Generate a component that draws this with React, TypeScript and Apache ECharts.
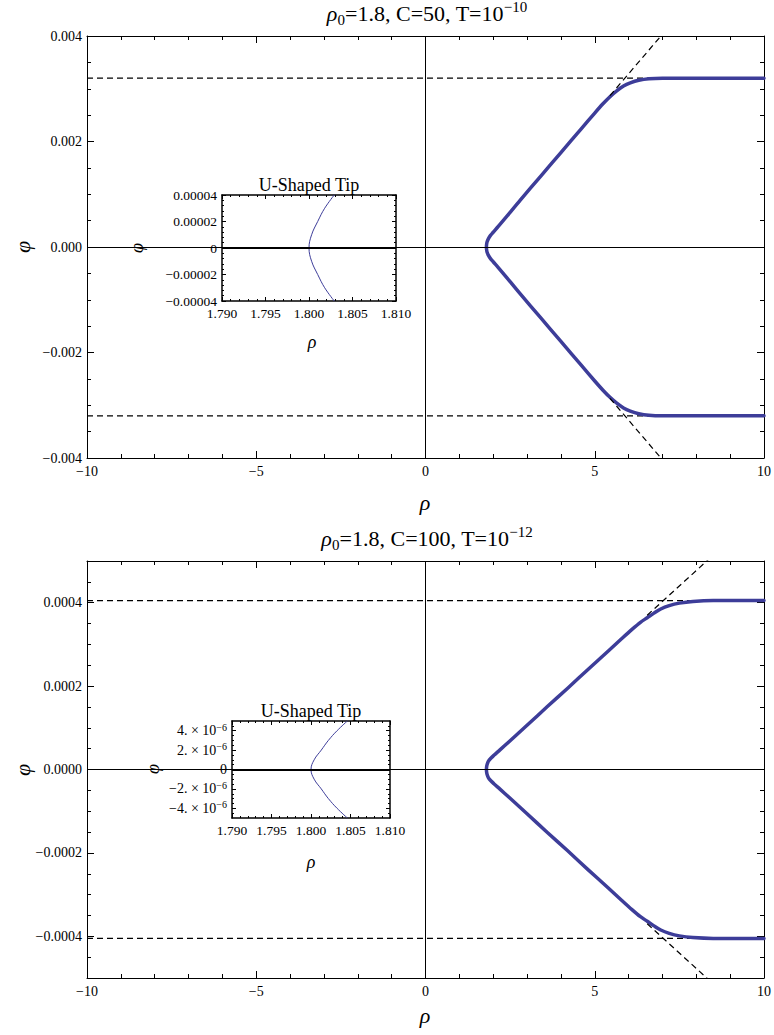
import React, { useEffect, useRef } from "react";
import * as echarts from "echarts";

const FONT = "Liberation Serif";
const BLUE = "#3d3d99";

// ---------- shared rho axis ----------
const rhoRange = [-10, 10];
const rhoMajor = [-10, -5, 0, 5, 10];
const rhoMinor = [-9, -8, -7, -6, -4, -3, -2, -1, 1, 2, 3, 4, 6, 7, 8, 9];

// ---------- Panel 1: rho0=1.8, C=50, T=10^-10 ----------
const p1PhiRange = [-0.004, 0.004];
const p1PhiMajor = [-0.004, -0.002, 0, 0.002, 0.004];
const p1PhiMinor = [-0.0035, -0.003, -0.0025, -0.0015, -0.001, -0.0005, 0.0005, 0.001, 0.0015, 0.0025, 0.003, 0.0035];

const p1UpperRho = [1.8, 1.805, 1.82, 1.86, 1.92, 2.0, 2.15, 2.4, 2.8, 3.4, 4.0, 4.6, 5.0, 5.25, 5.45, 5.65, 5.85, 6.05, 6.3, 6.6, 7.0, 8.5, 10];
const p1UpperPhi = [0, 0.00005, 0.0001, 0.00016, 0.00022, 0.00028, 0.00039, 0.00058, 0.00089, 0.00134, 0.00179, 0.00224, 0.00254, 0.00272, 0.00285, 0.00296, 0.00305, 0.00311, 0.00316, 0.00319, 0.0032, 0.0032, 0.0032];
const p1LowerRho = [1.8, 1.805, 1.82, 1.86, 1.92, 2.0, 2.15, 2.4, 2.8, 3.4, 4.0, 4.6, 5.0, 5.25, 5.45, 5.65, 5.85, 6.05, 6.3, 6.6, 7.0, 8.5, 10];
const p1LowerPhi = [0, -0.00005, -0.0001, -0.00016, -0.00022, -0.00028, -0.00039, -0.00058, -0.00089, -0.00134, -0.00179, -0.00224, -0.00254, -0.00272, -0.00285, -0.00296, -0.00305, -0.00311, -0.00316, -0.00319, -0.0032, -0.0032, -0.0032];
const p1Levels = [0.0032, -0.0032];
const p1DiagUpRho = [5.45, 7.5];
const p1DiagUpPhi = [0.00287, 0.00441];
const p1DiagDnRho = [5.45, 7.5];
const p1DiagDnPhi = [-0.00287, -0.00441];

// inset 1
const in1RhoRange = [1.79, 1.81];
const in1RhoMajor = [1.79, 1.795, 1.8, 1.805, 1.81];
const in1RhoMinor = [1.791, 1.792, 1.793, 1.794, 1.796, 1.797, 1.798, 1.799, 1.801, 1.802, 1.803, 1.804, 1.806, 1.807, 1.808, 1.809];
const in1PhiRange = [-0.00004, 0.00004];
const in1PhiMajor = [-0.00004, -0.00002, 0, 0.00002, 0.00004];
const in1PhiMinor = [-0.000036, -0.000032, -0.000028, -0.000024, -0.000016, -0.000012, -0.000008, -0.000004, 0.000004, 0.000008, 0.000012, 0.000016, 0.000024, 0.000028, 0.000032, 0.000036];
const in1Rho = [1.8029, 1.8018, 1.801, 1.8003, 1.8, 1.8003, 1.801, 1.8018, 1.8029];
const in1Phi = [-0.00004, -0.00003, -0.00002, -0.00001, 0, 0.00001, 0.00002, 0.00003, 0.00004];

// ---------- Panel 2: rho0=1.8, C=100, T=10^-12 ----------
const p2PhiRange = [-0.0005, 0.0005];
const p2PhiMajor = [-0.0004, -0.0002, 0, 0.0002, 0.0004];
const p2PhiMinor = [-0.00045, -0.00035, -0.0003, -0.00025, -0.00015, -0.0001, -0.00005, 0.00005, 0.0001, 0.00015, 0.00025, 0.0003, 0.00035, 0.00045];

const p2UpperRho = [1.8, 1.805, 1.82, 1.86, 1.93, 2.02, 2.2, 2.5, 3.0, 3.6, 4.2, 4.8, 5.4, 5.8, 6.1, 6.35, 6.55, 6.75, 6.95, 7.2, 7.5, 7.9, 8.5, 10];
const p2UpperPhi = [0, 0.000006, 0.000012, 0.00002, 0.000027, 0.000034, 0.000047, 0.000069, 0.000106, 0.000151, 0.000195, 0.00024, 0.000284, 0.000314, 0.000336, 0.000353, 0.000364, 0.000375, 0.000385, 0.000393, 0.000399, 0.000403, 0.000405, 0.000405];
const p2LowerRho = [1.8, 1.805, 1.82, 1.86, 1.93, 2.02, 2.2, 2.5, 3.0, 3.6, 4.2, 4.8, 5.4, 5.8, 6.1, 6.35, 6.55, 6.75, 6.95, 7.2, 7.5, 7.9, 8.5, 10];
const p2LowerPhi = [0, -0.000006, -0.000012, -0.00002, -0.000027, -0.000034, -0.000047, -0.000069, -0.000106, -0.000151, -0.000195, -0.00024, -0.000284, -0.000314, -0.000336, -0.000353, -0.000364, -0.000375, -0.000385, -0.000393, -0.000399, -0.000403, -0.000405, -0.000405];
const p2Levels = [0.000405, -0.000405];
const p2DiagUpRho = [6.55, 9.0];
const p2DiagUpPhi = [0.00037, 0.000551];
const p2DiagDnRho = [6.55, 9.0];
const p2DiagDnPhi = [-0.00037, -0.000551];

// inset 2
const in2RhoRange = [1.79, 1.81];
const in2RhoMajor = [1.79, 1.795, 1.8, 1.805, 1.81];
const in2RhoMinor = [1.791, 1.792, 1.793, 1.794, 1.796, 1.797, 1.798, 1.799, 1.801, 1.802, 1.803, 1.804, 1.806, 1.807, 1.808, 1.809];
const in2PhiRange = [-0.000005, 0.000005];
const in2PhiMajor = [-0.000004, -0.000002, 0, 0.000002, 0.000004];
const in2PhiMinor = [-0.0000045, -0.0000035, -0.000003, -0.0000025, -0.0000015, -0.000001, -0.0000005, 0.0000005, 0.000001, 0.0000015, 0.0000025, 0.000003, 0.0000035, 0.0000045];
const in2Rho = [1.8046, 1.8033, 1.8022, 1.8013, 1.8004, 1.8, 1.8004, 1.8013, 1.8022, 1.8033, 1.8046];
const in2Phi = [-0.000005, -0.000004, -0.000003, -0.000002, -0.000001, 0, 0.000001, 0.000002, 0.000003, 0.000004, 0.000005];

// ---------- layout (px) ----------
const grids = [
  { left: 87, top: 36, width: 677, height: 422 },
  { left: 222, top: 195, width: 174, height: 106 },
  { left: 87, top: 561, width: 677, height: 417 },
  { left: 232, top: 721, width: 158, height: 97 },
];

const zip = (a: number[], b: number[]) => a.map((v, i) => [v, b[i]]);
const minus = (v: number) => (v < 0 ? "\u2212" : "");

const labelRich = {
  m: { fontFamily: FONT, fontSize: 14, color: "#000", lineHeight: 17, verticalAlign: "middle" },
  s: { fontFamily: FONT, fontSize: 10, color: "#000", lineHeight: 10, verticalAlign: "top" },
};

function mkAxes(
  dim: "x" | "y",
  grid: number,
  range: number[],
  major: number[],
  minor: number[],
  fmt: (v: number) => string,
  labelSize: number,
  majLen: number,
  minLen: number,
  margin: number,
  lineW: number
) {
  const base: any = {
    gridIndex: grid,
    type: "value",
    min: range[0],
    max: range[1],
    splitLine: { show: false },
    axisPointer: { show: false },
  };
  const line = { show: true, onZero: false, lineStyle: { color: "#000", width: lineW } };
  const noLine = { show: false, onZero: false };
  const ts = { color: "#000", width: 1 };
  const posA = dim === "x" ? "bottom" : "left";
  const posB = dim === "x" ? "top" : "right";
  return [
    {
      ...base,
      position: posA,
      axisLine: line,
      axisTick: { show: true, inside: true, length: majLen, customValues: major, lineStyle: ts },
      axisLabel: {
        show: true,
        customValues: major,
        formatter: fmt,
        margin,
        fontFamily: FONT,
        fontSize: labelSize,
        color: "#000",
        rich: labelRich,
      },
    },
    {
      ...base,
      position: posA,
      axisLine: noLine,
      axisTick: { show: true, inside: true, length: minLen, customValues: minor, lineStyle: ts },
      axisLabel: { show: false },
    },
    {
      ...base,
      position: posB,
      axisLine: line,
      axisTick: { show: true, inside: true, length: majLen, customValues: major, lineStyle: ts },
      axisLabel: { show: false },
    },
    {
      ...base,
      position: posB,
      axisLine: noLine,
      axisTick: { show: true, inside: true, length: minLen, customValues: minor, lineStyle: ts },
      axisLabel: { show: false },
    },
  ];
}

const fmtRho = (v: number) => minus(v) + String(Math.abs(v));
const fmtP1 = (v: number) => minus(v) + Math.abs(v).toFixed(3);
const fmtP2 = (v: number) => minus(v) + Math.abs(v).toFixed(4);
const fmtIn = (v: number) => v.toFixed(3);
const fmtIn1Phi = (v: number) => (Math.abs(v) < 1e-12 ? "0" : minus(v) + Math.abs(v).toFixed(5));
const fmtIn2Phi = (v: number) =>
  Math.abs(v) < 1e-12 ? "{m|0}" : "{m|" + minus(v) + Math.abs(v * 1e6).toFixed(0) + ". \u00d7 10}{s|\u22126}";

function dashed(g: number, rho: number[], phi: number[], z = 2) {
  return {
    type: "line",
    xAxisIndex: g * 4,
    yAxisIndex: g * 4,
    data: zip(rho, phi),
    symbol: "none",
    silent: true,
    z,
    lineStyle: { color: "#000", width: 1.2, type: [6, 4] },
  };
}

function curve(g: number, rho: number[], phi: number[], width: number, smooth: number) {
  return {
    type: "line",
    xAxisIndex: g * 4,
    yAxisIndex: g * 4,
    data: zip(rho, phi),
    symbol: "none",
    smooth,
    silent: true,
    z: 3,
    lineStyle: { color: BLUE, width, cap: "round", join: "round" },
  };
}

function zeroLines(g: number, withV: boolean, width: number) {
  const data: any[] = [{ yAxis: 0 }];
  if (withV) data.push({ xAxis: 0 });
  return {
    type: "line",
    xAxisIndex: g * 4,
    yAxisIndex: g * 4,
    data: [],
    symbol: "none",
    silent: true,
    z: 1,
    markLine: {
      silent: true,
      symbol: "none",
      label: { show: false },
      lineStyle: { color: "#000", width, type: "solid" },
      data,
    },
  };
}

const titleRich = {
  a: { fontFamily: FONT, fontSize: 22, color: "#000", lineHeight: 28, verticalAlign: "middle" },
  i: { fontFamily: FONT, fontSize: 22, fontStyle: "italic", color: "#000", lineHeight: 28, verticalAlign: "middle" },
  b: { fontFamily: FONT, fontSize: 15, color: "#000", lineHeight: 15, verticalAlign: "bottom" },
  c: { fontFamily: FONT, fontSize: 15, color: "#000", lineHeight: 15, verticalAlign: "top" },
};

function txt(x: number, y: number, text: string, size: number, italic = false, rotation = 0) {
  return {
    type: "text",
    x,
    y,
    rotation,
    silent: true,
    style: {
      text,
      fontFamily: FONT,
      fontSize: size,
      fontStyle: italic ? "italic" : "normal",
      fill: "#000",
      align: "center",
      verticalAlign: "middle",
    },
  };
}

function richTxt(x: number, y: number, text: string) {
  return {
    type: "text",
    x,
    y,
    silent: true,
    style: { text, rich: titleRich, align: "center", verticalAlign: "middle", fill: "#000" },
  };
}

export default function App() {
  const ref = useRef<HTMLDivElement>(null);
  useEffect(() => {
    if (!ref.current) return;
    const chart = echarts.init(ref.current, undefined, { renderer: "svg" });
    const xAxis = [
      ...mkAxes("x", 0, rhoRange, rhoMajor, rhoMinor, fmtRho, 14, 7, 4, 6, 1),
      ...mkAxes("x", 1, in1RhoRange, in1RhoMajor, in1RhoMinor, fmtIn, 13.5, 4, 2, 5, 1.5),
      ...mkAxes("x", 2, rhoRange, rhoMajor, rhoMinor, fmtRho, 14, 7, 4, 6, 1),
      ...mkAxes("x", 3, in2RhoRange, in2RhoMajor, in2RhoMinor, fmtIn, 13.5, 4, 2, 5, 1.5),
    ];
    const yAxis = [
      ...mkAxes("y", 0, p1PhiRange, p1PhiMajor, p1PhiMinor, fmtP1, 14, 7, 4, 5, 1),
      ...mkAxes("y", 1, in1PhiRange, in1PhiMajor, in1PhiMinor, fmtIn1Phi, 13.5, 4, 2, 5, 1.5),
      ...mkAxes("y", 2, p2PhiRange, p2PhiMajor, p2PhiMinor, fmtP2, 14, 7, 4, 5, 1),
      ...mkAxes("y", 3, in2PhiRange, in2PhiMajor, in2PhiMinor, fmtIn2Phi, 13.5, 4, 2, 5, 1.5),
    ];
    const series: any[] = [
      zeroLines(0, true, 1),
      dashed(0, rhoRange, [p1Levels[0], p1Levels[0]]),
      dashed(0, rhoRange, [p1Levels[1], p1Levels[1]]),
      dashed(0, p1DiagUpRho, p1DiagUpPhi, 4),
      dashed(0, p1DiagDnRho, p1DiagDnPhi, 4),
      curve(0, [...p1LowerRho].reverse().concat(p1UpperRho.slice(1)), [...p1LowerPhi].reverse().concat(p1UpperPhi.slice(1)), 3.5, 0.3),
      zeroLines(1, false, 2),
      curve(1, in1Rho, in1Phi, 1, 0.4),
      zeroLines(2, true, 1),
      dashed(2, rhoRange, [p2Levels[0], p2Levels[0]]),
      dashed(2, rhoRange, [p2Levels[1], p2Levels[1]]),
      dashed(2, p2DiagUpRho, p2DiagUpPhi, 4),
      dashed(2, p2DiagDnRho, p2DiagDnPhi, 4),
      curve(2, [...p2LowerRho].reverse().concat(p2UpperRho.slice(1)), [...p2LowerPhi].reverse().concat(p2UpperPhi.slice(1)), 3.5, 0.3),
      zeroLines(3, false, 2),
      curve(3, in2Rho, in2Phi, 1, 0.4),
    ];
    const PHI = "\u03c6";
    const RHO = "\u03c1";
    chart.setOption({
      animation: false,
      backgroundColor: "#fff",
      grid: grids.map((g) => ({
        ...g,
        containLabel: false,
        show: false,
      })),
      xAxis,
      yAxis,
      series,
      graphic: [
        richTxt(427, 13, "{i|\u03c1}{b|0}{a|=1.8, C=50, T=10}{c|\u221210}"),
        richTxt(427, 538, "{i|\u03c1}{b|0}{a|=1.8, C=100, T=10}{c|\u221212}"),
        txt(22, 247, PHI, 22, true, Math.PI / 2),
        txt(425, 502, RHO, 22, true),
        txt(22, 770, PHI, 22, true, Math.PI / 2),
        txt(425, 1015, RHO, 22, true),
        txt(309, 185, "U-Shaped Tip", 18),
        txt(137, 248, PHI, 18, true, Math.PI / 2),
        txt(312, 342, RHO, 18, true),
        txt(311, 711, "U-Shaped Tip", 18),
        txt(153, 769, PHI, 18, true, Math.PI / 2),
        txt(311, 862, RHO, 18, true),
      ],
    });
    return () => chart.dispose();
  }, []);
  return (
    <div
      ref={ref}
      style={{ position: "absolute", left: 0, top: 0, width: 774, height: 1035, background: "#fff" }}
    />
  );
}
